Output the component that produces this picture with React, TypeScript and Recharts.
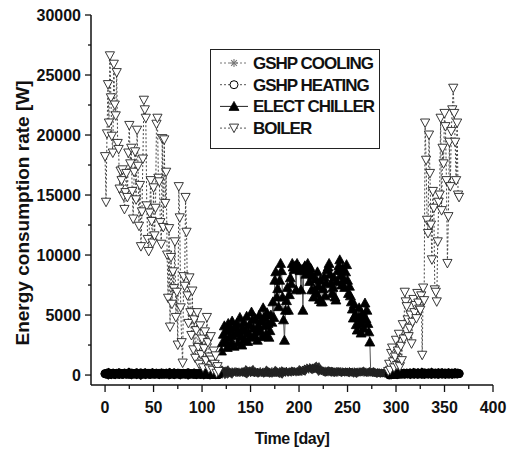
import React from "react";
import { LineChart, Line, XAxis, YAxis, Legend, Label } from "recharts";

// first day of each series segment
const boilerStartA = 0;
const boilerStartB = 292;
const chillerStart = 120;
const heatingStartA = 0;
const heatingStartB = 293;
const coolingStart = 118;

const boilerA = [
  18200, 14400, 20100, 24200, 21000, 26600, 23100, 19900, 18500, 25900,
  22500, 21600, 25200, 19300, 18800, 15500, 17000, 16200, 17100, 14900,
  13800, 15200, 16800, 14800, 18500, 20800, 17600, 18900, 15300, 13000,
  16900, 18600, 14600, 20400, 17400, 12400, 15800, 10700, 13600, 18000,
  22900, 22100, 21400, 14100, 11300, 10300, 13500, 16200, 12800, 11000,
  15600, 11600, 13900, 20900, 21400, 16400, 16100, 12700, 10900, 19700,
  12300, 19600, 14300, 16900, 10000, 6400, 12200, 4000, 9800, 5900,
  8600, 7200, 11100, 4800, 6900, 2500, 15700, 13100, 5600, 2700,
  1000, 8200, 7400, 14800, 11900, 6600, 4300, 8100, 5200, 3300,
  7000, 2100, 4600, 1400, 3700, 5200, 2300, 900, 4100, 1700,
  3000, 600, 2200, 3600, 1200, 4800, 2700, 500, 1500, 3200,
  1250, 400, 2000, 900, 1600, 150, 700, 300,
];

const boilerB = [
  300, 900, 400, 1800, 2250, 1100, 600, 1500, 2900, 800,
  2000, 3400, 700, 2400, 1200, 4200, 3000, 6900, 6100, 5700,
  4600, 3200, 3900, 5000, 2600, 4400, 6300, 5200, 5800, 4700,
  6800, 6000, 5500, 5400, 6600, 1650, 7250, 6200, 21000, 17900,
  12900, 11800, 20000, 16800, 12500, 9600, 15300, 13900, 7100, 6900,
  6100, 11100, 14400, 15000, 21400, 13700, 18900, 17600, 21800, 20700,
  16200, 9300, 13200, 19400, 15700, 20300, 22100, 23900, 21800, 19400,
  16200, 21000, 15000, 14800,
];

const chiller = [
  2000, 2700, 3400, 4100, 2900, 3700, 2300, 4300, 3100, 3800,
  2600, 4500, 3300, 2400, 4000, 3500, 4300, 2700, 3600, 4800,
  3200, 2500, 3900, 4400, 3000, 3700, 4900, 2800, 3500, 4200,
  3150, 5250, 4600, 3900, 3300, 4700, 3600, 2900, 4100, 5000,
  3750, 4500, 3200, 5600, 4800, 4100, 3400, 5200, 4300, 3150,
  3700, 5000, 4400, 6100, 4800, 7900, 8600, 6500, 7200, 5700,
  7900, 9300, 8700, 6500, 4600, 2900, 5400, 6200, 7300, 5400,
  6700, 8100, 7600, 9300, 9000, 8800, 9100, 7100, 9300, 8900,
  9000, 8700, 7100, 8800, 5400, 8900, 9100, 8400, 9000,
  9300, 8600, 7800, 8900, 7100, 8300, 6500, 7100, 8000, 6800,
  8600, 7400, 6300, 7900, 6100, 6100, 7200, 8200, 6600, 7700,
  8800, 9000, 9300, 8400, 7600, 6800, 7300, 8100, 6500, 6250,
  7800, 8700, 9100, 9600, 8300, 7500, 8900, 8000, 7300, 8600,
  9200, 7900, 6800, 7400, 6600, 6100, 5500, 4750, 5900, 5000,
  4200, 3750, 4800, 5600, 4300, 3500, 5100, 4600, 3900, 6000,
  4700, 5400, 4300, 3600, 2750, 0,
];

const heatingA = [
  110, 90, 130, 80, 150, 100, 70, 120, 140, 90, 60, 110, 130, 100, 80, 150, 120, 90, 70, 110,
  140, 100, 80, 120, 90, 160, 110, 70, 130, 100, 90, 120, 150, 80, 110, 100, 130, 60, 120, 90,
  100, 140, 80, 110, 130, 90, 70, 120, 100, 150, 110, 80, 90, 130, 100, 120, 70, 110, 140, 90,
  120, 80, 100, 130, 90, 110, 150, 70, 100, 120, 90, 140, 80, 110, 100, 130, 90, 60, 120, 100,
  90, 130, 110, 80, 100, 140, 70, 120, 90, 110, 100, 80, 130, 90, 60, 110, 100, 80, 120, 70,
  90, 110, 60, 100, 80, 120, 70, 90, 50, 100, 80, 60, 90, 70, 50, 80, 60, 40,
];

const heatingB = [
  20, 40, 30, 60, 50, 80, 70, 90, 60, 100, 80, 110, 90, 120, 100, 130, 90, 110, 140, 100,
  120, 150, 90, 130, 110, 160, 100, 140, 120, 90, 150, 110, 130, 100, 170, 120, 90, 140, 110, 130,
  100, 150, 120, 90, 160, 110, 130, 100, 140, 120, 90, 150, 110, 130, 160, 100, 120, 140, 90, 130,
  110, 150, 100, 120, 140, 90, 130, 110, 160, 120, 100, 140, 120,
];

const cooling = [
  200, 250, 180, 300, 220, 270, 160, 240, 310, 190,
  260, 230, 170, 290, 210, 250, 320, 180, 240, 200,
  280, 160, 230, 300, 190, 260, 220, 170, 310, 240,
  200, 270, 180, 250, 330, 210, 160, 290, 230, 260,
  190, 240, 310, 170, 220, 280, 200, 250, 180, 300,
  230, 270, 190, 240, 320, 210, 260, 180, 290, 220,
  250, 200, 310, 240, 170, 280, 230, 260, 200, 330,
  240, 210, 290, 260, 220, 300, 250, 340, 270, 230,
  310, 280, 250, 360, 300, 270,
  420, 380, 510, 460, 600, 540, 470, 650, 580, 520,
  610, 490, 560, 630, 500, 450, 540, 410, 470, 380, 350,
  320, 280, 350, 260, 300, 240, 330, 290, 250, 310,
  270, 230, 300, 260, 340, 220, 280, 250, 310, 240,
  290, 260, 210, 300, 250, 270, 230, 320, 260, 240,
  280, 220, 300, 250, 190, 270, 240, 290, 210, 260,
  230, 280, 200, 250, 270, 220, 240, 190, 260, 210,
  230, 180, 250, 200, 220, 170, 240, 190, 210, 160,
  200, 150, 180, 130, 160, 110, 140, 90, 120, 70, 50,
];

const xTicks = [0, 25, 50, 75, 100, 125, 150, 175, 200, 225, 250, 275, 300, 325, 350, 375, 400];
const yTicks = [0, 2500, 5000, 7500, 10000, 12500, 15000, 17500, 20000, 22500, 25000, 27500, 30000];

const pick = (arr: number[], start: number, d: number) =>
  d >= start && d < start + arr.length ? arr[d - start] : null;

const data = Array.from({ length: 366 }, (_, d) => ({
  day: d,
  cooling: pick(cooling, coolingStart, d),
  heating: pick(heatingA, heatingStartA, d) ?? pick(heatingB, heatingStartB, d),
  chiller: pick(chiller, chillerStart, d),
  boiler: pick(boilerA, boilerStartA, d) ?? pick(boilerB, boilerStartB, d),
}));

const font = "'Liberation Sans', Arial, sans-serif";
const tickStyle = { fontFamily: font, fontWeight: 700, fontSize: 16, fill: "#111" };

const Star = ({ cx, cy, color = "#222" }: any) => {
  const r = 4;
  const d = r * 0.72;
  return (
    <g stroke={color} strokeWidth={1.1}>
      <line x1={cx - r} y1={cy} x2={cx + r} y2={cy} />
      <line x1={cx} y1={cy - r} x2={cx} y2={cy + r} />
      <line x1={cx - d} y1={cy - d} x2={cx + d} y2={cy + d} />
      <line x1={cx - d} y1={cy + d} x2={cx + d} y2={cy - d} />
    </g>
  );
};

const Ring = ({ cx, cy, fill = "#fff" }: any) => (
  <circle cx={cx} cy={cy} r={4} fill={fill} stroke="#000" strokeWidth={1} />
);

const DenseRing = ({ cx, cy }: any) => <Ring cx={cx} cy={cy} fill="#000" />;

const UpTri = ({ cx, cy }: any) => (
  <path d={`M${cx},${cy - 5} L${cx + 5},${cy + 4} L${cx - 5},${cy + 4} Z`} fill="#000" stroke="#000" strokeWidth={0.8} />
);

const DownTri = ({ cx, cy }: any) => (
  <path d={`M${cx - 4.6},${cy - 4} L${cx + 4.6},${cy - 4} L${cx},${cy + 4.5} Z`} fill="#fff" stroke="#222" strokeWidth={0.9} />
);

const dotOf = (Shape: any, id: string, skipZero = false) => (p: any) => {
  if (p.cx == null || p.cy == null || p.value == null || (skipZero && p.value === 0))
    return <g key={`${id}${p.index}`} />;
  return <Shape key={`${id}${p.index}`} cx={p.cx} cy={p.cy} />;
};

const XTick = ({ x, y, payload }: any) => {
  const major = payload.value % 50 === 0;
  return (
    <g>
      <line x1={x} y1={y} x2={x} y2={y + (major ? 7 : 4)} stroke="#111" strokeWidth={1.3} />
      {major && (
        <text x={x} y={y + 28} textAnchor="middle" style={tickStyle}>
          {payload.value}
        </text>
      )}
    </g>
  );
};

const YTick = ({ x, y, payload }: any) => {
  const major = payload.value % 5000 === 0;
  return (
    <g>
      <line x1={x} y1={y} x2={x - (major ? 6 : 3)} y2={y} stroke="#111" strokeWidth={1.3} />
      {major && (
        <text x={x - 10} y={y + 6} textAnchor="end" style={tickStyle}>
          {payload.value}
        </text>
      )}
    </g>
  );
};

const legendItems = [
  { name: "GSHP COOLING", Shape: (p: any) => <Star {...p} color="#777" />, color: "#777", dash: "2 2" },
  { name: "GSHP HEATING", Shape: Ring, color: "#555", dash: "2 2" },
  { name: "ELECT CHILLER", Shape: UpTri, color: "#222", dash: undefined },
  { name: "BOILER", Shape: DownTri, color: "#555", dash: "2 2" },
];

const LegendBox = () => (
  <svg width={170} height={100} style={{ display: "block" }}>
    <rect x={0.5} y={0.5} width={169} height={99} fill="#fff" stroke="#222" strokeWidth={1} />
    {legendItems.map((it, i) => {
      const cy = 14 + i * 21.7;
      return (
        <g key={it.name}>
          <line x1={10} y1={cy} x2={38} y2={cy} stroke={it.color} strokeWidth={1} strokeDasharray={it.dash} />
          <it.Shape cx={24} cy={cy} />
          <text
            x={43}
            y={cy + 6}
            style={{ fontFamily: font, fontWeight: 700, fontSize: 17, letterSpacing: -1, fill: "#111" }}
          >
            {it.name}
          </text>
        </g>
      );
    })}
  </svg>
);

export default function App() {
  return (
    <div style={{ position: "absolute", left: 0, top: 0, width: 521, height: 454, background: "#fff" }}>
      <LineChart width={521} height={454} data={data} margin={{ top: 15, right: 28, bottom: 39, left: 31 }}>
        <XAxis
          dataKey="day"
          type="number"
          domain={[-14.5, 400]}
          ticks={xTicks}
          interval={0}
          tick={<XTick />}
          tickLine={false}
          tickSize={0}
          tickMargin={0}
          height={30}
          axisLine={{ stroke: "#111", strokeWidth: 1.5 }}
        >
          <Label
            content={() => (
              <text
                x={292}
                y={444}
                textAnchor="middle"
                style={{ fontFamily: font, fontWeight: 700, fontSize: 16, letterSpacing: -0.5, fill: "#111" }}
              >
                Time [day]
              </text>
            )}
          />
        </XAxis>
        <XAxis
          xAxisId="top"
          orientation="top"
          type="number"
          domain={[-14.5, 400]}
          height={0}
          tick={false}
          tickLine={false}
          axisLine={{ stroke: "#111", strokeWidth: 1.5 }}
        />
        <YAxis
          type="number"
          domain={[-830, 30000]}
          ticks={yTicks}
          interval={0}
          tick={<YTick />}
          tickLine={false}
          tickSize={0}
          tickMargin={0}
          width={60}
          axisLine={{ stroke: "#111", strokeWidth: 1.5 }}
        >
          <Label
            content={() => (
              <text
                x={29}
                y={213}
                textAnchor="middle"
                transform="rotate(-90, 29, 213)"
                style={{ fontFamily: font, fontWeight: 700, fontSize: 19, fill: "#111" }}
              >
                Energy consumption rate [W]
              </text>
            )}
          />
        </YAxis>
        <YAxis
          yAxisId="right"
          orientation="right"
          type="number"
          domain={[-830, 30000]}
          width={0}
          tick={false}
          tickLine={false}
          axisLine={{ stroke: "#111", strokeWidth: 1.5 }}
        />
        <Legend
          layout="vertical"
          align="center"
          verticalAlign="middle"
          wrapperStyle={{ left: 210, top: 49, width: 170, height: 100 }}
          content={LegendBox}
        />
        {/* the daily markers overlap into a speckled grey band */}
        <Line
          dataKey="cooling"
          stroke="#333"
          strokeWidth={8}
          strokeDasharray="1 1"
          dot={dotOf(Star, "c")}
          activeDot={false}
          isAnimationActive={false}
        />
        {/* the daily circles overlap into a solid black band */}
        <Line
          dataKey="heating"
          stroke="#000"
          strokeWidth={9}
          strokeLinecap="round"
          dot={dotOf(DenseRing, "h")}
          activeDot={false}
          isAnimationActive={false}
        />
        <Line
          dataKey="chiller"
          stroke="#555"
          strokeWidth={1}
          dot={dotOf(UpTri, "e", true)}
          activeDot={false}
          isAnimationActive={false}
        />
        <Line
          dataKey="boiler"
          stroke="#444"
          strokeWidth={1}
          strokeDasharray="2 2"
          dot={dotOf(DownTri, "b")}
          activeDot={false}
          isAnimationActive={false}
        />
      </LineChart>
    </div>
  );
}
